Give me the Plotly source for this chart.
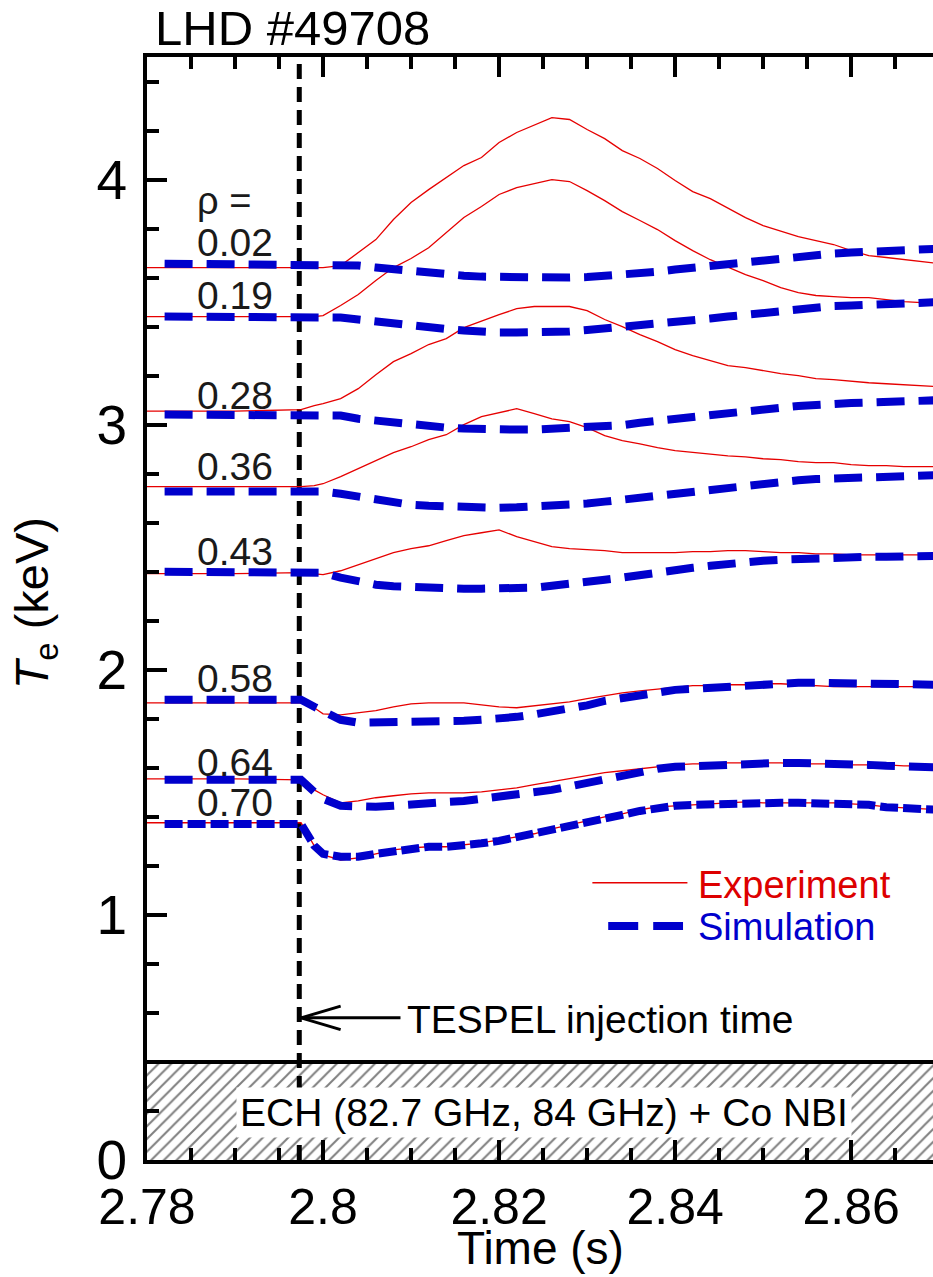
import plotly.graph_objects as go

# ---------------- data ----------------
t_exp = [2.780, 2.790, 2.7975, 2.799,
         2.800, 2.802, 2.804, 2.806, 2.808, 2.810, 2.812, 2.814, 2.816, 2.818,
         2.820, 2.822, 2.824, 2.826, 2.828, 2.830, 2.832, 2.834, 2.836, 2.838,
         2.840, 2.842, 2.844, 2.846, 2.848, 2.850, 2.852, 2.854, 2.856, 2.858,
         2.860, 2.862, 2.864, 2.866, 2.868, 2.870]
t_sim = [2.782, 2.790, 2.7975, 2.799,
         2.800, 2.802, 2.804, 2.806, 2.808, 2.810, 2.812, 2.814, 2.816, 2.818,
         2.820, 2.822, 2.824, 2.826, 2.828, 2.830, 2.832, 2.834, 2.836, 2.838,
         2.840, 2.842, 2.844, 2.846, 2.848, 2.850, 2.852, 2.854, 2.856, 2.858,
         2.860, 2.862, 2.864, 2.866, 2.868, 2.870]

rho_labels = ["0.02", "0.19", "0.28", "0.36", "0.43", "0.58", "0.64", "0.70"]

exp_002 = [3.641, 3.641, 3.641, 3.641,
           3.641, 3.649, 3.702, 3.755, 3.837, 3.906, 3.959, 4.008, 4.057, 4.090,
           4.151, 4.192, 4.224, 4.253, 4.245, 4.204, 4.167, 4.118, 4.086, 4.045,
           3.996, 3.951, 3.922, 3.882, 3.845, 3.812, 3.788, 3.767, 3.751, 3.735,
           3.710, 3.690, 3.682, 3.673, 3.665, 3.657]
exp_019 = [3.441, 3.441, 3.441, 3.441,
           3.445, 3.486, 3.531, 3.588, 3.641, 3.678, 3.722, 3.784, 3.845, 3.890,
           3.939, 3.967, 3.984, 4.000, 3.992, 3.955, 3.914, 3.869, 3.833, 3.796,
           3.751, 3.710, 3.673, 3.641, 3.612, 3.588, 3.559, 3.539, 3.527, 3.522,
           3.518, 3.518, 3.510, 3.502, 3.498, 3.494]
exp_028 = [3.055, 3.055, 3.061, 3.078,
           3.086, 3.106, 3.147, 3.204, 3.257, 3.290, 3.327, 3.351, 3.396, 3.424,
           3.449, 3.473, 3.482, 3.482, 3.482, 3.465, 3.429, 3.400, 3.367, 3.339,
           3.306, 3.282, 3.261, 3.241, 3.233, 3.220, 3.208, 3.200, 3.188, 3.184,
           3.176, 3.171, 3.167, 3.163, 3.159, 3.155]
exp_036 = [2.747, 2.747, 2.747, 2.751,
           2.759, 2.788, 2.820, 2.853, 2.886, 2.910, 2.939, 2.959, 3.000, 3.033,
           3.049, 3.065, 3.045, 3.024, 3.012, 2.988, 2.955, 2.935, 2.922, 2.906,
           2.894, 2.886, 2.878, 2.873, 2.869, 2.861, 2.857, 2.849, 2.845, 2.845,
           2.837, 2.833, 2.833, 2.829, 2.829, 2.829]
exp_043 = [2.392, 2.392, 2.396, 2.392,
           2.388, 2.404, 2.429, 2.453, 2.478, 2.494, 2.506, 2.527, 2.547, 2.559,
           2.571, 2.543, 2.522, 2.502, 2.494, 2.490, 2.486, 2.478, 2.478, 2.478,
           2.478, 2.482, 2.482, 2.486, 2.486, 2.482, 2.478, 2.478, 2.473, 2.473,
           2.469, 2.469, 2.469, 2.469, 2.469, 2.469]
exp_058 = [1.865, 1.865, 1.865, 1.845,
           1.820, 1.816, 1.824, 1.833, 1.849, 1.861, 1.865, 1.865, 1.865, 1.857,
           1.849, 1.845, 1.853, 1.861, 1.869, 1.882, 1.894, 1.906, 1.914, 1.922,
           1.927, 1.935, 1.935, 1.939, 1.939, 1.943, 1.943, 1.939, 1.935, 1.931,
           1.931, 1.931, 1.931, 1.931, 1.931, 1.931]
exp_064 = [1.555, 1.555, 1.551, 1.510,
           1.490, 1.457, 1.465, 1.478, 1.486, 1.494, 1.498, 1.498, 1.498, 1.502,
           1.510, 1.518, 1.531, 1.543, 1.555, 1.567, 1.580, 1.588, 1.596, 1.604,
           1.612, 1.616, 1.616, 1.620, 1.620, 1.620, 1.620, 1.616, 1.616, 1.616,
           1.612, 1.612, 1.612, 1.608, 1.608, 1.604]
exp_070 = [1.376, 1.376, 1.376, 1.282,
           1.245, 1.224, 1.233, 1.249, 1.265, 1.273, 1.278, 1.278, 1.286, 1.294,
           1.306, 1.318, 1.331, 1.351, 1.367, 1.384, 1.400, 1.412, 1.429, 1.441,
           1.445, 1.449, 1.453, 1.457, 1.461, 1.457, 1.457, 1.457, 1.457, 1.457,
           1.453, 1.449, 1.441, 1.437, 1.433, 1.429]

sim_002 = [3.657, 3.657, 3.657, 3.657,
           3.657, 3.653, 3.649, 3.641, 3.633, 3.624, 3.616, 3.612, 3.608, 3.604,
           3.602, 3.600, 3.600, 3.600, 3.600, 3.602, 3.606, 3.610, 3.616, 3.624,
           3.633, 3.641, 3.649, 3.657, 3.665, 3.673, 3.680, 3.686, 3.692, 3.698,
           3.702, 3.706, 3.708, 3.710, 3.714, 3.718]
sim_019 = [3.441, 3.441, 3.441, 3.441,
           3.441, 3.437, 3.429, 3.420, 3.412, 3.400, 3.394, 3.390, 3.384, 3.378,
           3.376, 3.376, 3.376, 3.378, 3.380, 3.386, 3.392, 3.396, 3.404, 3.410,
           3.416, 3.424, 3.433, 3.441, 3.449, 3.457, 3.465, 3.473, 3.478, 3.484,
           3.486, 3.490, 3.494, 3.496, 3.498, 3.500]
sim_028 = [3.041, 3.041, 3.041, 3.041,
           3.041, 3.037, 3.024, 3.016, 3.004, 2.996, 2.992, 2.988, 2.984, 2.980,
           2.980, 2.980, 2.980, 2.982, 2.984, 2.988, 2.992, 2.998, 3.008, 3.016,
           3.029, 3.037, 3.043, 3.049, 3.053, 3.061, 3.069, 3.076, 3.082, 3.086,
           3.088, 3.090, 3.092, 3.094, 3.098, 3.100]
sim_036 = [2.727, 2.727, 2.727, 2.727,
           2.727, 2.718, 2.706, 2.694, 2.682, 2.673, 2.669, 2.665, 2.663, 2.661,
           2.661, 2.663, 2.665, 2.669, 2.673, 2.678, 2.686, 2.694, 2.702, 2.710,
           2.718, 2.727, 2.737, 2.747, 2.755, 2.763, 2.769, 2.773, 2.778, 2.780,
           2.784, 2.788, 2.790, 2.792, 2.792, 2.794]
sim_043 = [2.400, 2.400, 2.400, 2.400,
           2.396, 2.376, 2.359, 2.347, 2.341, 2.337, 2.333, 2.331, 2.331, 2.331,
           2.331, 2.333, 2.335, 2.343, 2.349, 2.357, 2.367, 2.376, 2.388, 2.398,
           2.406, 2.416, 2.424, 2.433, 2.439, 2.445, 2.449, 2.453, 2.457, 2.459,
           2.461, 2.461, 2.461, 2.461, 2.463, 2.465]
sim_058 = [1.878, 1.878, 1.878, 1.849,
           1.829, 1.796, 1.784, 1.784, 1.784, 1.784, 1.786, 1.788, 1.792, 1.796,
           1.800, 1.808, 1.818, 1.829, 1.839, 1.855, 1.873, 1.886, 1.898, 1.908,
           1.918, 1.922, 1.927, 1.933, 1.937, 1.941, 1.947, 1.947, 1.947, 1.947,
           1.945, 1.943, 1.941, 1.939, 1.939, 1.939]
sim_064 = [1.551, 1.551, 1.551, 1.502,
           1.473, 1.445, 1.441, 1.441, 1.445, 1.453, 1.457, 1.461, 1.465, 1.473,
           1.480, 1.490, 1.500, 1.510, 1.524, 1.539, 1.555, 1.571, 1.588, 1.596,
           1.604, 1.608, 1.612, 1.614, 1.616, 1.620, 1.620, 1.620, 1.620, 1.618,
           1.616, 1.612, 1.608, 1.606, 1.604, 1.602]
sim_070 = [1.371, 1.371, 1.371, 1.282,
           1.249, 1.237, 1.237, 1.249, 1.261, 1.273, 1.278, 1.278, 1.282, 1.292,
           1.302, 1.316, 1.335, 1.347, 1.363, 1.378, 1.392, 1.408, 1.424, 1.437,
           1.445, 1.449, 1.451, 1.455, 1.461, 1.459, 1.457, 1.457, 1.457, 1.457,
           1.455, 1.449, 1.439, 1.435, 1.433, 1.429]

exp_series = [exp_002, exp_019, exp_028, exp_036, exp_043, exp_058, exp_064, exp_070]
sim_series = [sim_002, sim_019, sim_028, sim_036, sim_043, sim_058, sim_064, sim_070]

# label anchor positions (time, keV)
label_t = 2.7854
label_T = [3.745, 3.529, 3.121, 2.831, 2.484, 1.965, 1.623, 1.459]
rho_head_T = 3.912

t_injection = 2.7973
ech_band = (0.0, 0.4)
x_range = [2.78, 2.8693]
y_range = [0, 4.5]

RED = "#E60000"
BLUE = "#0000CC"
FONT = "Liberation Sans"

fig = go.Figure()

# hatched heating band
fig.add_trace(go.Scatter(
    x=[x_range[0], 2.88, 2.88, x_range[0], x_range[0]],
    y=[ech_band[0], ech_band[0], ech_band[1], ech_band[1], ech_band[0]],
    mode="none", fill="toself", fillcolor="rgba(0,0,0,0)",
    fillpattern=dict(shape="/", fgcolor="black", bgcolor="rgba(0,0,0,0)",
                     size=9, solidity=0.22),
    hoverinfo="skip", showlegend=False))

for ys in exp_series:
    fig.add_trace(go.Scatter(x=t_exp, y=ys, mode="lines",
                             line=dict(color=RED, width=1.3),
                             showlegend=False))
for i, ys in enumerate(sim_series):
    dash = "18px,5px" if i == len(sim_series) - 1 else "28px,14px"
    fig.add_trace(go.Scatter(x=t_sim, y=ys, mode="lines",
                             line=dict(color=BLUE, width=8, dash=dash),
                             showlegend=False))

shapes = [
    # injection time
    dict(type="line", xref="x", yref="y", x0=t_injection, x1=t_injection,
         y0=y_range[0], y1=y_range[1], layer="below",
         line=dict(color="black", width=5, dash="15px,8px")),
    # top edge of heating band
    dict(type="line", xref="paper", yref="y", x0=0, x1=1, y0=ech_band[1], y1=ech_band[1],
         line=dict(color="black", width=4)),
    # arrow to injection line
    dict(type="line", xref="x", yref="y", x0=2.7975, x1=2.8088, y0=0.580, y1=0.580,
         line=dict(color="black", width=3)),
    dict(type="line", xref="x", yref="y", x0=2.7975, x1=2.8020, y0=0.580, y1=0.628,
         line=dict(color="black", width=3)),
    dict(type="line", xref="x", yref="y", x0=2.7975, x1=2.8020, y0=0.580, y1=0.532,
         line=dict(color="black", width=3)),
    # legend samples
    dict(type="line", xref="x", yref="y", x0=2.8306, x1=2.8414, y0=1.131, y1=1.131,
         line=dict(color=RED, width=1.5)),
    dict(type="line", xref="x", yref="y", x0=2.8324, x1=2.8409, y0=0.955, y1=0.955,
         line=dict(color=BLUE, width=8, dash="30px,15px")),
]

ann = []
ann.append(dict(text="ρ =", x=label_t, y=rho_head_T, xref="x", yref="y",
                xanchor="left", yanchor="middle", showarrow=False,
                font=dict(size=38, color="#1a1a1a", family=FONT)))
for lab, ty in zip(rho_labels, label_T):
    ann.append(dict(text=lab, x=label_t, y=ty, xref="x", yref="y",
                    xanchor="left", yanchor="middle", showarrow=False,
                    font=dict(size=39, color="#1a1a1a", family=FONT)))
ann += [
    dict(text="LHD #49708", x=0.008, y=1.026, xref="paper", yref="paper",
         xanchor="left", yanchor="middle", showarrow=False,
         font=dict(size=49, color="black", family=FONT)),
    dict(text="Experiment", x=2.8424, y=1.122, xref="x", yref="y",
         xanchor="left", yanchor="middle", showarrow=False,
         font=dict(size=38, color="#DD0000", family=FONT)),
    dict(text="Simulation", x=2.8424, y=0.950, xref="x", yref="y",
         xanchor="left", yanchor="middle", showarrow=False,
         font=dict(size=38, color=BLUE, family=FONT)),
    dict(text="TESPEL injection time", x=2.8093, y=0.575, xref="x", yref="y",
         xanchor="left", yanchor="middle", showarrow=False,
         font=dict(size=39, color="black", family=FONT)),
    dict(text="ECH (82.7 GHz, 84 GHz) + Co NBI", x=2.8251, y=0.195, xref="x", yref="y",
         xanchor="center", yanchor="middle", showarrow=False, bgcolor="white",
         borderpad=3, font=dict(size=39, color="black", family=FONT)),
    dict(text="<i>T</i><sub>e</sub> (keV)", x=-0.142, y=0.505, xref="paper", yref="paper",
         xanchor="center", yanchor="middle", showarrow=False, textangle=-90,
         font=dict(size=47, color="black", family=FONT)),
    dict(text="Time (s)", x=0.5, y=-0.0795, xref="paper", yref="paper",
         xanchor="center", yanchor="middle", showarrow=False,
         font=dict(size=46, color="black", family=FONT)),
]

fig.update_layout(
    width=933, height=1277,
    margin=dict(l=147, r=0, t=57, b=117, autoexpand=False),
    paper_bgcolor="white", plot_bgcolor="white",
    showlegend=False,
    font=dict(family=FONT, color="black"),
    shapes=shapes, annotations=ann,
    xaxis=dict(range=x_range, tickmode="linear", tick0=2.78, dtick=0.02,
               ticks="inside", ticklen=20, tickwidth=4, tickcolor="black",
               showline=True, linewidth=4, linecolor="black", mirror="ticks",
               showgrid=False, zeroline=False, automargin=False,
               tickfont=dict(size=50, family=FONT, color="black"),
               minor=dict(tick0=2.78, dtick=0.005, ticks="inside", ticklen=12,
                          tickwidth=4, tickcolor="black", showgrid=False)),
    yaxis=dict(range=y_range, tickmode="linear", tick0=0, dtick=1,
               ticks="inside", ticklen=20, tickwidth=4, tickcolor="black",
               showline=True, linewidth=4, linecolor="black", mirror=False,
               showgrid=False, zeroline=False, ticklabelstandoff=5, automargin=False,
               tickfont=dict(size=55, family=FONT, color="black"),
               minor=dict(tick0=0, dtick=0.2, ticks="inside", ticklen=12,
                          tickwidth=4, tickcolor="black", showgrid=False)),
    yaxis2=dict(range=y_range, overlaying="y", side="right", automargin=False,
                tickmode="linear", tick0=0, dtick=1,
                ticks="inside", ticklen=14, tickwidth=4, tickcolor="black",
                showline=False, showgrid=False, zeroline=False, showticklabels=False,
                minor=dict(tick0=0, dtick=0.2, ticks="inside", ticklen=6,
                           tickwidth=4, tickcolor="black", showgrid=False)),
)

fig.write_html("out.html",
               config={"displayModeBar": False},
               post_script="document.body.style.margin='0';document.body.style.padding='0';")
